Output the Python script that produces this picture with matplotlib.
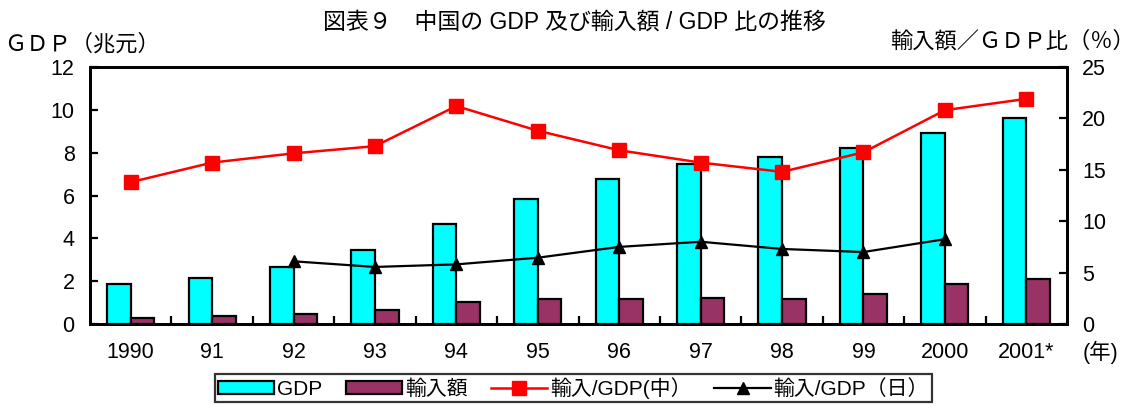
import numpy as np
import matplotlib.pyplot as plt
from matplotlib.ticker import MultipleLocator

plt.rcParams['font.family'] = ['Liberation Sans', 'Noto Sans CJK JP', 'DejaVu Sans']

years = ['1990', '91', '92', '93', '94', '95', '96', '97', '98', '99', '2000', '2001*']
gdp = [1.85, 2.16, 2.67, 3.45, 4.68, 5.85, 6.79, 7.45, 7.81, 8.21, 8.94, 9.61]
imports = [0.29, 0.37, 0.47, 0.65, 1.01, 1.15, 1.18, 1.22, 1.18, 1.38, 1.86, 2.12]
ratio_cn = [13.8, 15.7, 16.6, 17.3, 21.2, 18.8, 16.9, 15.7, 14.8, 16.7, 20.8, 21.9]
ratio_jp = [None, None, 6.1, 5.55, 5.8, 6.45, 7.5, 8.0, 7.3, 7.0, 8.25, None]

x = np.arange(len(years))
w = 0.29
jp_x = [i for i, v in enumerate(ratio_jp) if v is not None]
jp_y = [v for v in ratio_jp if v is not None]

fig = plt.figure(figsize=(11.37, 4.09), dpi=100)
ax = fig.add_axes([90/1137, 85/409, 977/1137, 257/409])
ax2 = ax.twinx()

b1 = ax.bar(x - w, gdp, w, align='edge', color='#00FFFF', edgecolor='black', linewidth=1.6, label='GDP')
b2 = ax.bar(x, imports, w, align='edge', color='#993366', edgecolor='black', linewidth=1.6, label='輸入額')
l1, = ax2.plot(x, ratio_cn, color='red', marker='s', markersize=10, linewidth=1.8, label='輸入/GDP(中）')
l2, = ax2.plot(jp_x, jp_y, color='black', marker='^', markersize=9, linewidth=1.6, label='輸入/GDP（日）')

ax.set_xlim(-0.5, 11.5)
ax.set_ylim(0, 12)
ax2.set_ylim(0, 25)
ax.yaxis.set_major_locator(MultipleLocator(2))
ax2.yaxis.set_major_locator(MultipleLocator(5))
ax.set_xticks(x)
ax.set_xticklabels(years)
ax.set_xticks(np.arange(0.5, 11.5, 1), minor=True)
ax.tick_params(axis='x', which='major', length=0, pad=13, labelsize=15.5)
ax.tick_params(axis='x', which='minor', direction='in', length=6, width=1.6)
ax.tick_params(axis='y', direction='in', length=6, width=1.6, labelsize=15.5, pad=11)
ax2.tick_params(axis='y', direction='in', length=6, width=1.6, labelsize=15.5, pad=11)
for a in (ax, ax2):
    for s in a.spines.values():
        s.set_linewidth(2)

fig.text(0.505, 0.945, '図表９　中国の GDP 及び輸入額 / GDP 比の推移', ha='center', va='center', fontsize=16.5)
fig.text(0.004, 0.89, 'ＧＤＰ（兆元）', ha='left', va='center', fontsize=16)
fig.text(0.998, 0.897, '輸入額／ＧＤＰ比（％）', ha='right', va='center', fontsize=16)
fig.text(1100/1137, 1 - 352/409, '(年)', ha='center', va='center', fontsize=15.5)

leg = fig.legend(handles=[b1, b2, l1, l2], loc='upper left', bbox_to_anchor=(215/1137, 1 - 374/409),
                 ncol=4, frameon=True, fancybox=False, edgecolor='black', fontsize=15,
                 handlelength=2.7, handleheight=0.6, handletextpad=0.15, columnspacing=1.1,
                 borderpad=0.15, borderaxespad=0)
leg.get_frame().set_linewidth(1.6)

fig.savefig('out.png', dpi=100)
